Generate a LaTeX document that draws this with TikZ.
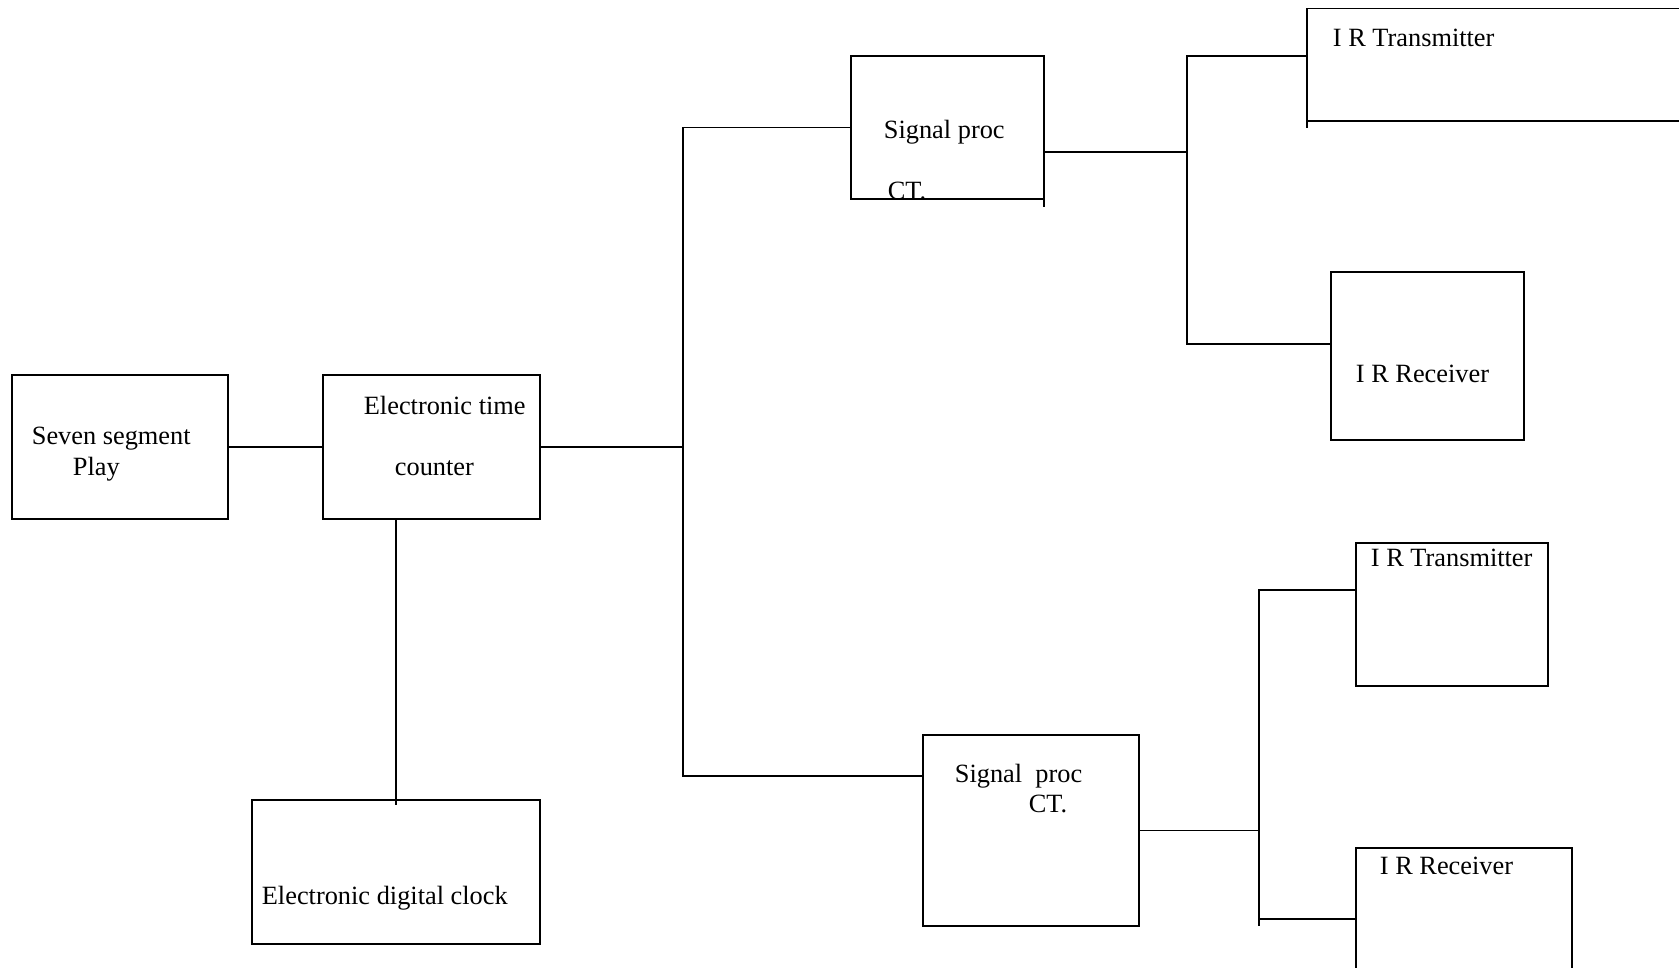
\documentclass[tikz,border=0pt]{standalone}
\usepackage{fontspec}
\setmainfont{Liberation Serif}
\usepackage{tikz}

\begin{document}
\begin{tikzpicture}[x=0.016cm, y=-0.016cm, line width=0.8pt,
  blk/.style={draw, inner sep=0pt, outer sep=0pt},
  lbl/.style={anchor=base west, inner sep=0pt, font=\fontsize{12}{14}\selectfont}]
\useasboundingbox (0,0) rectangle (1679,967);
\clip (0,0) rectangle (1679,967);

% Display and counter
\node[blk, minimum width=3.456cm, minimum height=2.304cm] (seven) at (120,447) {};
\node[lbl] (tseven) at (31,444) {Seven segment};
\node[lbl] (tplay) at (72,475) {Play};

\node[blk, minimum width=3.472cm, minimum height=2.304cm] (etc) at (431.5,447) {};
\node[lbl] (tetc) at (363,414) {Electronic time};
\node[lbl] (tcnt) at (394,475) {counter};

% Clock
\node[blk, minimum width=4.608cm, minimum height=2.304cm] (clock) at (396,872) {};
\node[lbl] (tclock) at (261,904) {Electronic digital clock};

% Signal processing
\node[blk, minimum width=3.088cm, minimum height=2.288cm] (spa) at (947.5,127.5) {};
\node[lbl] (tspa) at (883,138) {Signal proc};
\node[lbl] (tcta) at (887,199) {CT.};

\node[blk, minimum width=3.456cm, minimum height=3.056cm] (spb) at (1031,830.5) {};
\node[lbl] (tspb) at (954,782) {Signal\ \ proc};
\node[lbl] (tctb) at (1028,812) {CT.};

% IR units
\node[blk, minimum width=6.608cm, minimum height=1.8cm] (txa) at (1513.5,64.75) {};
\node[lbl] (ttxa) at (1332,46) {I R Transmitter};

\node[blk, minimum width=3.088cm, minimum height=2.688cm] (rxa) at (1427.5,356) {};
\node[lbl] (trxa) at (1355,382) {I R Receiver};

\node[blk, minimum width=3.072cm, minimum height=2.288cm] (txb) at (1452,614.5) {};
\node[lbl] (ttxb) at (1370,566) {I R Transmitter};

\node[blk, minimum width=3.456cm, minimum height=2.432cm] (rxb) at (1464,924) {};
\node[lbl] (trxb) at (1379,874) {I R Receiver};

% Junctions
\coordinate (busa) at (683,776);
\coordinate (ja) at (1187,56);
\coordinate (jb) at (1187,344);
\coordinate (oa) at (1044,152);
\coordinate (jc) at (1259,590);
\coordinate (jd) at (1259,919);

% Lines
\draw (seven.east) -- (etc.west);
\draw (etc.east) -- (etc.east -| busa);
\draw (clock.north |- etc.south) -- (clock.north) -- ++(0,5);
\draw (spa.west) -| (busa) -- (busa -| spb.west);
\draw (oa) -- (oa -| ja);
\draw (ja -| txa.west) -- (ja) -- (jb) -- (jb -| rxa.west);
\draw (spb.east) -- (spb.east -| jc);
\draw (jc -| txb.west) -- (jc) -- (jd) -- (jd -| rxb.west);
\draw (jd) -- ++(0,7);
\draw (spa.south east) -- ++(0,8);
\draw (txa.south west) -- ++(0,7);
\end{tikzpicture}
\end{document}
